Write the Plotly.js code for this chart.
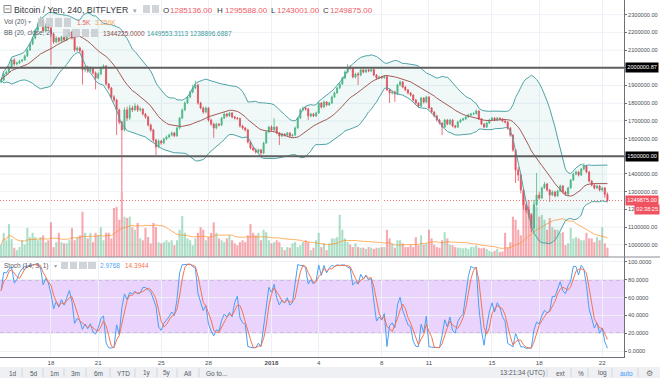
<!DOCTYPE html>
<html><head><meta charset="utf-8">
<script src="https://cdn.plot.ly/plotly-3.0.1.min.js"></script>
<style>html,body{margin:0;padding:0;background:#fff;overflow:hidden}#chart{width:660px;height:378px}</style>
</head><body><div id="chart"></div>
<script>
// ---- data (prices in thousands of JPY, volume in thousands of BTC) ----
const firstCandleUTC = [2017, 11, 14, 20]; // 4h candles (240)
const openK = [1920,1931,1965,1976,2004,2044,2021,2027,2038,2044,
2067,2101,2134,2168,2214,2247,2270,2208,2236,2225,
2191,2146,2168,2151,2174,2157,2180,2202,2168,2101,
2112,2095,1988,2004,1982,1999,1971,1942,1965,1999,
2010,1908,1886,1835,1818,1762,1694,1649,1762,1716,
1773,1762,1784,1762,1767,1739,1722,1677,1649,1592,
1552,1586,1575,1598,1609,1620,1632,1615,1660,1716,
1762,1801,1835,1863,1886,1903,1801,1773,1750,1773,
1705,1682,1660,1682,1677,1716,1739,1728,1745,1722,
1716,1714,1671,1660,1649,1581,1547,1536,1524,1536,
1519,1575,1637,1665,1649,1665,1632,1615,1626,1620,
1632,1615,1620,1660,1716,1762,1773,1767,1728,1739,
1728,1745,1801,1778,1807,1790,1801,1835,1858,1886,
1908,1942,1976,2004,1999,1948,1965,1959,1988,1976,
1988,1982,1990,1959,1942,1948,1944,1950,1875,1858,
1863,1852,1903,1920,1891,1875,1858,1846,1818,1801,
1784,1829,1807,1835,1773,1750,1728,1705,1688,1665,
1705,1682,1705,1671,1665,1694,1705,1711,1722,1733,
1739,1741,1756,1711,1682,1665,1688,1705,1716,1705,
1716,1711,1699,1694,1660,1620,1536,1423,1394,1310,
1225,1197,1168,1095,1225,1281,1264,1321,1343,1310,
1281,1298,1276,1304,1332,1298,1287,1321,1366,1400,
1411,1394,1428,1445,1411,1360,1338,1321,1332,1310,
1321,1285.136];
const highK = [1940,1972,1985,2012,2052,2055,2035,2046,2050,2075,
2110,2142,2176,2222,2258,2290,2278,2250,2245,2232,
2200,2178,2175,2182,2180,2188,2212,2210,2175,2122,
2120,2102,2015,2012,2008,2005,1980,1975,2008,2020,
2015,1915,1892,1845,1825,1770,1700,1775,1780,1790,
1785,1800,1792,1778,1772,1745,1728,1685,1655,1598,
1595,1592,1605,1618,1628,1640,1638,1668,1722,1770,
1810,1842,1872,1905,1928,1910,1808,1780,1782,1778,
1712,1690,1690,1688,1722,1748,1745,1752,1750,1728,
1722,1718,1678,1665,1655,1588,1555,1545,1544,1542,
1582,1645,1672,1675,1716,1670,1638,1634,1630,1638,
1636,1628,1668,1722,1770,1782,1780,1772,1745,1745,
1752,1808,1806,1815,1812,1808,1842,1866,1892,1916,
1950,1985,2021,2015,2005,1972,1975,1995,1995,1996,
1994,1998,1995,1965,1955,1954,1958,1955,1882,1872,
1870,1910,1928,1925,1896,1880,1862,1850,1824,1806,
1836,1834,1842,1840,1778,1755,1734,1712,1692,1712,
1710,1712,1710,1678,1700,1712,1718,1728,1740,1745,
1750,1765,1760,1716,1688,1695,1712,1722,1720,1722,
1720,1715,1705,1698,1665,1625,1540,1440,1400,1318,
1240,1215,1175,1232,1406,1300,1330,1355,1350,1315,
1308,1305,1312,1340,1338,1305,1328,1372,1408,1420,
1418,1435,1462,1450,1416,1366,1345,1340,1338,1328,
1326,1295.588];
const lowK = [1912,1925,1958,1970,1998,2012,2014,2020,2030,2040,
2060,2095,2128,2160,2205,2240,2198,2200,2215,2016,
2135,2138,2142,2145,2148,2150,2172,2160,2090,2092,
2085,1905,1975,1972,1975,1962,1878,1935,1958,1992,
1900,1875,1825,1805,1620,1680,1300,1640,1700,1705,
1750,1755,1750,1752,1730,1712,1668,1638,1580,1507,
1545,1565,1568,1590,1602,1612,1608,1610,1652,1710,
1755,1795,1828,1855,1880,1792,1765,1740,1742,1695,
1672,1605,1652,1668,1670,1710,1720,1722,1715,1708,
1706,1662,1650,1640,1572,1538,1528,1515,1516,1507,
1512,1570,1630,1640,1642,1625,1564,1608,1612,1615,
1608,1610,1615,1655,1710,1755,1758,1705,1720,1722,
1722,1740,1770,1772,1782,1785,1795,1830,1852,1880,
1902,1936,1970,1990,1940,1940,1903,1952,1968,1970,
1975,1976,1952,1935,1936,1938,1938,1868,1801,1848,
1807,1848,1895,1884,1868,1850,1838,1810,1792,1775,
1778,1798,1800,1765,1742,1720,1696,1680,1620,1660,
1675,1676,1664,1658,1660,1688,1700,1705,1716,1728,
1732,1735,1705,1675,1658,1660,1682,1700,1698,1700,
1704,1692,1685,1650,1610,1525,1349,1360,1290,1200,
1180,1150,1072,1088,1218,1255,1258,1315,1300,1242,
1275,1268,1270,1298,1290,1278,1272,1315,1360,1392,
1386,1388,1420,1404,1352,1330,1312,1314,1302,1300,
1265,1243.001];
const closeK = [1931,1965,1976,2004,2044,2021,2027,2038,2044,2067,
2101,2134,2168,2214,2247,2270,2208,2236,2225,2191,
2146,2168,2151,2174,2157,2180,2202,2168,2101,2112,
2095,1988,2004,1982,1999,1971,1942,1965,1999,2010,
1908,1886,1835,1818,1762,1694,1649,1762,1716,1773,
1762,1784,1762,1767,1739,1722,1677,1649,1592,1552,
1586,1575,1598,1609,1620,1632,1615,1660,1716,1762,
1801,1835,1863,1886,1903,1801,1773,1750,1773,1705,
1682,1660,1682,1677,1716,1739,1728,1745,1722,1716,
1714,1671,1660,1649,1581,1547,1536,1524,1536,1519,
1575,1637,1665,1649,1665,1632,1615,1626,1620,1632,
1615,1620,1660,1716,1762,1773,1767,1728,1739,1728,
1745,1801,1778,1807,1790,1801,1835,1858,1886,1908,
1942,1976,2004,1999,1948,1965,1959,1988,1976,1988,
1982,1990,1959,1942,1948,1944,1950,1875,1858,1863,
1852,1903,1920,1891,1875,1858,1846,1818,1801,1784,
1829,1807,1835,1773,1750,1728,1705,1688,1665,1705,
1682,1705,1671,1665,1694,1705,1711,1722,1733,1739,
1741,1756,1711,1682,1665,1688,1705,1716,1705,1716,
1711,1699,1694,1660,1620,1536,1423,1394,1310,1225,
1197,1168,1095,1225,1281,1264,1321,1343,1310,1281,
1298,1276,1304,1332,1298,1287,1321,1366,1400,1411,
1394,1428,1445,1411,1360,1338,1321,1332,1310,1321,
1285.136,1249.875];
const volumeK = [2.0,3.9,2.7,5.3,2.9,1.5,1.1,1.6,2.7,2.0,
4.7,3.2,3.9,3.2,2.7,3.2,3.5,2.4,2.7,5.6,
1.6,2.4,3.9,2.4,2.2,2.2,2.7,4.7,2.7,3.2,
3.5,7.3,3.9,3.0,3.9,2.4,3.9,3.5,4.8,2.7,
3.9,3.9,3.0,7.9,8.1,6.0,10.5,6.5,6.3,6.5,
4.8,4.4,5.5,3.0,2.7,4.7,3.2,2.2,5.5,4.8,
2.4,2.2,2.4,2.7,2.4,2.7,1.9,2.7,4.4,6.6,
3.9,3.0,2.7,1.9,3.0,3.9,4.8,4.4,2.7,3.2,
3.9,5.6,3.9,3.0,2.7,2.4,3.0,3.5,2.7,2.2,
1.9,2.4,2.7,2.4,3.5,5.3,3.9,3.5,3.9,2.7,
4.4,4.0,2.7,2.2,2.4,2.7,2.4,1.6,1.1,1.6,
1.5,2.2,2.4,1.6,1.9,2.4,2.7,2.4,1.1,1.5,
2.7,3.9,1.6,2.2,1.1,2.2,3.0,3.0,3.2,6.8,
4.4,3.0,2.4,2.0,1.6,2.2,1.6,1.5,1.5,1.3,
1.6,1.5,1.3,1.5,1.5,1.6,1.6,4.4,3.0,2.2,
1.5,2.7,2.7,2.2,1.6,1.6,1.9,1.6,3.2,1.9,
3.5,2.0,2.2,4.4,3.0,2.0,1.6,1.5,2.7,4.0,
3.0,2.0,1.9,1.6,1.5,1.5,1.4,1.5,1.3,1.6,
1.6,1.9,1.5,1.4,1.5,1.3,1.0,0.8,1.0,1.3,
0.8,0.9,3.9,1.5,2.4,6.5,6.0,4.4,3.5,10.3,
8.1,9.2,7.1,9.2,8.1,6.5,6.8,6.0,4.4,6.3,
4.8,4.4,4.4,3.9,4.0,1.9,2.2,4.7,3.0,3.2,
3.0,2.7,2.7,3.9,3.0,3.0,2.4,3.2,2.7,4.8,
2.2,1.5];
const tickDates = ['2017-12-18','2017-12-21','2017-12-25','2017-12-28','2018-01-01','2018-01-04','2018-01-08','2018-01-11','2018-01-15','2018-01-18','2018-01-22'];
const tickLabels = ['18','21','25','28','<b>2018</b>','4','8','11','15','18','22'];
const priceTicks = [1000000,1100000,1200000,1300000,1400000,1500000,1600000,1700000,1800000,1900000,2000000,2100000,2200000,2300000];
const stochTicks = [0,20,40,60,80,100];
const drawnLevels = [2000000.87, 1500000];
const drawnLevelLabels = ['2000000.87','1500000.00'];
const lastPrice = 1249875;
const lastPriceLabel = '1249875.00';
const countdown = '02:38:25';
const ohlcLabels = ['O','H','L','C'];
const ohlcValues = ['1285136.00','1295588.00','1243001.00','1249875.00'];
const volValues = ['1.5K','3.256K'];
const bbValues = ['1344225.0000','1449553.3113','1238896.6887'];
const stochValues = ['2.9768','14.3944'];

// ---- derived ----
const N = closeK.length;
const t0 = Date.UTC(firstCandleUTC[0], firstCandleUTC[1], firstCandleUTC[2], firstCandleUTC[3]);
const times = closeK.map((_, i) => new Date(t0 + i*4*3600*1000).toISOString().slice(0,16).replace('T',' '));
const toY = v => v*1000;
const open = openK.map(toY), high = highK.map(toY), low = lowK.map(toY), close = closeK.map(toY);
function sma(arr, n){ return arr.map((_, i) => { const s = arr.slice(Math.max(0,i-n+1), i+1); return s.reduce((a,b)=>a+b,0)/s.length; }); }
const basis = sma(close, 20);
const sd = close.map((_, i) => { const s = close.slice(Math.max(0,i-19), i+1); const m = basis[i]; return Math.sqrt(s.reduce((a,b)=>a+(b-m)*(b-m),0)/s.length); });
const upper = basis.map((m,i)=>m+2*sd[i]);
const lower = basis.map((m,i)=>m-2*sd[i]);
const volMA = sma(volumeK, 20);
const stochK = close.map((c,i)=>{ const a=Math.max(0,i-13); const hh=Math.max(...high.slice(a,i+1)); const ll=Math.min(...low.slice(a,i+1)); return hh===ll?50:100*(c-ll)/(hh-ll); });
const stochD = sma(stochK, 3);
const volColors = close.map((c,i)=> c>=open[i] ? 'rgba(83,185,135,0.48)' : 'rgba(239,83,96,0.5)');

const UP='#53b987', DN='#eb4d5c';
const traces = [
  {type:'bar', x:times, y:volumeK, xaxis:'x', yaxis:'y', marker:{color:volColors, line:{width:0}}, hoverinfo:'skip'},
  {type:'scatter', mode:'lines', x:times, y:volMA, xaxis:'x', yaxis:'y', line:{color:'rgba(255,145,40,0.7)', width:1}, hoverinfo:'skip'},
  {type:'scatter', mode:'lines', x:times, y:lower, xaxis:'x', yaxis:'y2', line:{color:'#4fa3a6', width:1}, hoverinfo:'skip'},
  {type:'scatter', mode:'lines', x:times, y:upper, xaxis:'x', yaxis:'y2', line:{color:'#4fa3a6', width:1}, fill:'tonexty', fillcolor:'rgba(0,150,136,0.06)', hoverinfo:'skip'},
  {type:'scatter', mode:'lines', x:times, y:basis, xaxis:'x', yaxis:'y2', line:{color:'#a35a58', width:1}, hoverinfo:'skip'},
  {type:'candlestick', x:times, open:open, high:high, low:low, close:close, xaxis:'x', yaxis:'y2', whiskerwidth:0,
   increasing:{line:{color:UP, width:0.8}, fillcolor:UP}, decreasing:{line:{color:DN, width:0.8}, fillcolor:DN}, hoverinfo:'skip'},
  {type:'scatter', mode:'lines', x:times, y:stochK, xaxis:'x', yaxis:'y3', line:{color:'#4a9ff5', width:1}, hoverinfo:'skip'},
  {type:'scatter', mode:'lines', x:times, y:stochD, xaxis:'x', yaxis:'y3', line:{color:'#f7734f', width:1}, hoverinfo:'skip'}
];

const PW=624, PH=357;
const P = x => x/PW, Q = y => (PH-y)/PH;
const split = Q(257);
const FONT = 'Liberation Sans, Arial, sans-serif';
const AX = '#6d707a';
const AXF = 5.6;

const shapes = [];
priceTicks.forEach(v => shapes.push({type:'line', xref:'paper', x0:0, x1:1, yref:'y2', y0:v, y1:v, line:{color:'#edf1f6', width:1}, layer:'below'}));
shapes.push({type:'rect', xref:'paper', x0:0, x1:1, yref:'y3', y0:20, y1:80, fillcolor:'rgba(150,40,250,0.2)', line:{width:0}, layer:'below'});
[20,80].forEach(v => shapes.push({type:'line', xref:'paper', x0:0, x1:1, yref:'y3', y0:v, y1:v, line:{color:'#8a8a8a', width:1, dash:'4px,3px'}, layer:'below'}));
shapes.push({type:'line', xref:'paper', x0:0, x1:1, yref:'y2', y0:lastPrice, y1:lastPrice, line:{color:'rgba(239,83,80,0.85)', width:1, dash:'1px,2px'}, layer:'below'});
drawnLevels.forEach(v => shapes.push({type:'line', xref:'paper', x0:0, x1:1, yref:'y2', y0:v, y1:v, line:{color:'#5f5f5f', width:2}, layer:'above'}));
shapes.push({type:'line', xref:'paper', x0:0, x1:660/PW, yref:'paper', y0:split, y1:split, line:{color:'#8a8d96', width:1}});
// bottom toolbar
shapes.push({type:'rect', xref:'paper', x0:0, x1:660/PW, yref:'paper', y0:Q(367), y1:Q(379), fillcolor:'#eef0f3', line:{width:0}});
[22,43,64,86,110,135,157,177,199,547,571,588,612,638].forEach(x => shapes.push({type:'line', xref:'paper', x0:P(x), x1:P(x), yref:'paper', y0:Q(368.5), y1:Q(377), line:{color:'#d2d5da', width:1}}));
// legend icon boxes
const boxes = [[143,150,5,13],[152,159,5,13],[38,44,18,27],[46,53,18,27],[55,62,18,27],[64,71,18,27],[63,70,29,37],[72,80,29,37],[82,89,29,37],[91,98,29,37],[61,68,262,269],[70,77,262,269],[79,87,262,269],[88,96,262,269]];
boxes.forEach(b => shapes.push({type:'rect', xref:'paper', yref:'paper', x0:P(b[0]), x1:P(b[1]), y0:Q(b[3]), y1:Q(b[2]), fillcolor:'rgba(200,203,208,0.85)', line:{width:0}}));
shapes.push({type:'rect', xref:'paper', yref:'paper', x0:P(4), x1:P(11), y0:Q(12.5), y1:Q(5.5), line:{color:'#8a8a8a', width:1}, fillcolor:'rgba(0,0,0,0)'});
shapes.push({type:'line', xref:'paper', yref:'paper', x0:P(5.5), x1:P(9.5), y0:Q(9), y1:Q(9), line:{color:'#8a8a8a', width:1}});

function txt(text, x, y, color, size, extra){
  return Object.assign({text:text, xref:'paper', yref:'paper', x:P(x), y:Q(y), xanchor:'left', yanchor:'middle', showarrow:false, borderpad:0, font:{family:FONT, size:size, color:color}}, extra||{});
}
function axBox(text, yref, y, bg, xa){
  return {text:text, xref:'paper', x:xa==='right'?P(659.5):P(625), xanchor:xa||'left', yref:yref, y:y, yanchor:'middle', showarrow:false, bgcolor:bg, borderpad:1.3, font:{family:FONT, size:AXF, color:'#fff'}};
}
const RED = '#ef5964', GRAY='#555a63';
const ann = [
  txt('Bitcoin / Yen, 240, BITFLYER', 13, 10, '#333840', 8.8),
  txt('▾', 132, 10, '#a0a4aa', 7),
  txt(ohlcLabels[0], 162, 10, '#333840', 8), txt(ohlcValues[0], 169, 10, RED, 8),
  txt(ohlcLabels[1], 216, 10, '#333840', 8), txt(ohlcValues[1], 224, 10, RED, 8),
  txt(ohlcLabels[2], 270, 10, '#333840', 8), txt(ohlcValues[2], 276, 10, RED, 8),
  txt(ohlcLabels[3], 322, 10, '#333840', 8), txt(ohlcValues[3], 329, 10, RED, 8),
  txt('Vol (20)', 3, 22, GRAY, 6.5), txt('▾', 27, 22, '#a0a4aa', 6),
  txt(volValues[0], 76, 22, RED, 6.5), txt(volValues[1], 94, 22, '#f5a35c', 6.5),
  txt('BB (20, close, 2)', 3, 33, GRAY, 6.5),
  txt(bbValues[0], 102, 33, '#8e4b4b', 6.5), txt(bbValues[1], 146, 33, '#3a9ba0', 6.5), txt(bbValues[2], 189, 33, '#3a9ba0', 6.5),
  txt('Stoch (14, 3, 1)', 3, 265.5, GRAY, 6.5), txt('▾', 53, 265.5, '#a0a4aa', 6),
  txt(stochValues[0], 99, 265.5, '#4a9ff5', 6.5), txt(stochValues[1], 124, 265.5, '#f7734f', 6.5),
  axBox(drawnLevelLabels[0], 'y2', drawnLevels[0], '#000'),
  axBox(drawnLevelLabels[1], 'y2', drawnLevels[1], '#000'),
  axBox(lastPriceLabel, 'y2', lastPrice, '#f0525f'),
  axBox(countdown, 'y2', 1197000, '#f0525f', 'right')
];
const tb = [['1d',8],['5d',29],['1m',49],['3m',70],['6m',93],['YTD',116],['1y',142],['5y',162],['All',183],['Go to...',205]];
tb.forEach(t => ann.push(txt(t[0], t[1], 373, GRAY, 6.5)));
[['13:21:34 (UTC)',499],['ext',555],['%',577],['log',597]].forEach(t => ann.push(txt(t[0], t[1], 373, GRAY, 6.5)));
ann.push(txt('auto', 619, 373, '#3d9bf5', 6.5));
ann.push(txt('⚙', 645, 373, '#777', 8, {font:{family:'DejaVu Sans', size:8, color:'#777'}}));

const layout = {
  width:660, height:378, margin:{l:0, r:36, t:0, b:21},
  paper_bgcolor:'#fff', plot_bgcolor:'#fff', showlegend:false,
  font:{family:FONT, size:6.2, color:'#4b4f56'},
  bargap:0.2, boxgap:0.4,
  xaxis:{type:'date', range:['2017-12-14 18:19','2018-01-23 09:12'], anchor:'y3',
    tickmode:'array', tickvals:tickDates, ticktext:tickLabels, tickfont:{size:6.2, color:'#4b4f56'},
    showgrid:true, gridcolor:'#edf1f6', gridwidth:1, showline:true, linecolor:AX, linewidth:1,
    ticks:'', zeroline:false, rangeslider:{visible:false}, fixedrange:true},
  yaxis:{domain:[split,1], range:[0,41.45], visible:false, fixedrange:true, showgrid:false, zeroline:false},
  yaxis2:{overlaying:'y', anchor:'x', side:'right', range:[931000,2383000], tickmode:'array', tickvals:priceTicks, tickformat:'.2f',
    showgrid:false, zeroline:false, showline:true, linecolor:AX, linewidth:1, ticks:'outside', ticklen:2, tickcolor:AX, tickfont:{size:AXF, color:'#4b4f56'}, fixedrange:true},
  yaxis3:{domain:[0,split], anchor:'x', side:'right', range:[-6.7,105.6], tickmode:'array', tickvals:stochTicks, tickformat:'.4f',
    showgrid:true, gridcolor:'#edf1f6', zeroline:false, showline:true, linecolor:AX, linewidth:1, ticks:'outside', ticklen:2, tickcolor:AX, tickfont:{size:AXF, color:'#4b4f56'}, fixedrange:true},
  shapes:shapes, annotations:ann
};
Plotly.newPlot('chart', traces, layout, {staticPlot:true, displayModeBar:false});
</script>
</body></html>
